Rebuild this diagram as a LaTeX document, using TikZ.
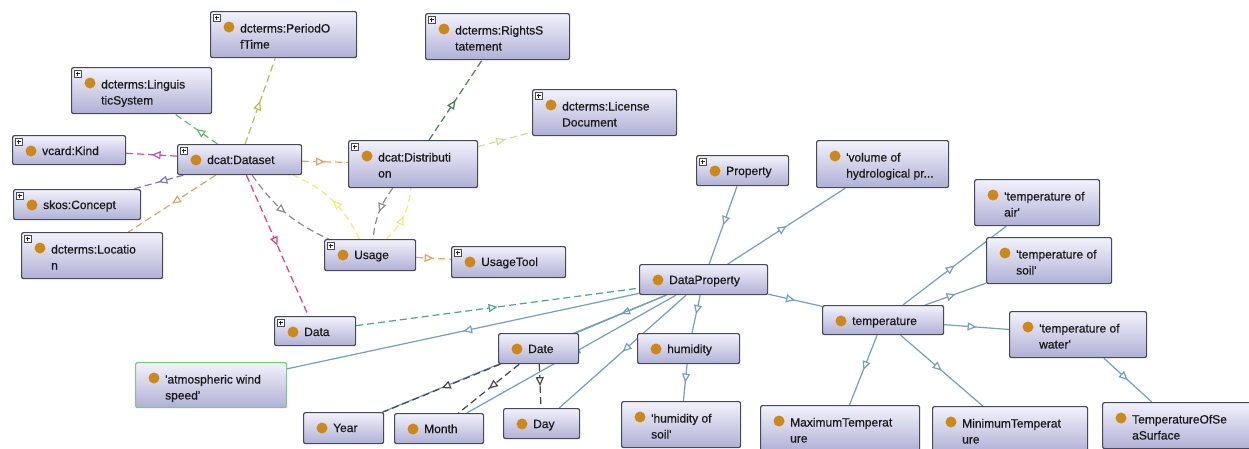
\documentclass[tikz,border=0pt]{standalone}
\usepackage{fontspec}
\setmainfont{Liberation Sans}[FakeBold=0.5]
\usetikzlibrary{arrows.meta,decorations.markings,calc}
\pgfdeclarelayer{bg}
\pgfdeclarelayer{edges}
\pgfsetlayers{bg,edges,main}
\definecolor{boxline}{RGB}{72,72,86}
\definecolor{boxtop}{RGB}{242,242,252}
\definecolor{boxbot}{RGB}{176,176,214}
\definecolor{dotc}{RGB}{204,136,24}
\definecolor{windc}{RGB}{120,205,120}
\definecolor{subc}{RGB}{118,158,190}
\definecolor{cgreen}{RGB}{100,190,100}
\definecolor{colive}{RGB}{180,190,90}
\definecolor{cmagenta}{RGB}{190,80,190}
\definecolor{cviolet}{RGB}{130,110,220}
\definecolor{ctan}{RGB}{210,170,100}
\definecolor{corange}{RGB}{238,160,100}
\definecolor{cgrey}{RGB}{140,140,140}
\definecolor{cpink}{RGB}{220,60,130}
\definecolor{cyellow}{RGB}{240,235,120}
\definecolor{cdkgreen}{RGB}{70,130,70}
\definecolor{cpale}{RGB}{215,220,150}
\definecolor{cteal}{RGB}{80,160,150}
\definecolor{cdark}{RGB}{70,70,80}
\tikzset{
  obox/.style={draw=boxline, line width=1.2pt, rounded corners=2pt,
    top color=boxtop, bottom color=boxbot, inner sep=0pt},
  otext/.style={font=\fontsize{12}{16}\selectfont, align=left, inner sep=0pt, text=black!90},
  midarr/.style={postaction={decorate,decoration={markings,
    mark=at position 0.5 with {\arrow{Triangle[length=9pt,width=8pt,fill=white]}}}}},
  rel/.style={draw=#1, line width=1.2pt, dash pattern=on 7pt off 4pt, midarr},
  sub/.style={draw=subc, line width=1.2pt, midarr},
}
\newcommand{\onto}[8][]{%
  \node[obox,#1,minimum width=#5pt,minimum height=#6pt,anchor=north west] (#2) at (#3,#4) {};
  \ifnum#6>40 \def\obl{37.5}\else\def\obl{20}\fi
  \fill[dotc] ($(#2.north west)+(19,16)$) circle (5.5pt);
  \node[otext,anchor=base west] (#2-t) at ($(#2.north west)+(30,\obl)$) {#7};
  \ifnum#8=1
    \filldraw[fill=white,draw=black!70,line width=0.5pt] ($(#2.north west)+(3,3)$) rectangle +(7,7);
    \draw[black!85,line width=0.8pt] ($(#2.north west)+(4.5,6.5)$) -- +(4,0) ($(#2.north west)+(6.5,4.5)$) -- +(0,4);
  \fi
}
\begin{document}
\begin{tikzpicture}[x=1pt,y=-1pt]
\useasboundingbox (0,0) rectangle (1249,448);
\begin{pgfonlayer}{bg}
\fill[white] (0,0) rectangle (1249,448);
\end{pgfonlayer}
\onto{period}{210}{11}{146}{46}{dcterms:PeriodO\\fTime}{1}
\onto{ling}{71}{67}{140}{46}{dcterms:Linguis\\ticSystem}{1}
\onto{kind}{12}{135}{113}{29}{vcard:Kind}{1}
\onto{dataset}{177}{144}{124}{30}{dcat:Dataset}{1}
\onto{skos}{13}{189}{127}{30}{skos:Concept}{1}
\onto{location}{21}{232}{141}{46}{dcterms:Locatio\\n}{1}
\onto{distribution}{348}{140}{129}{47}{dcat:Distributi\\on}{1}
\onto{rights}{425}{13}{144}{46}{dcterms:RightsS\\tatement}{1}
\onto{license}{532}{89}{144}{46}{dcterms:License\\Document}{1}
\onto{usage}{324}{239}{91}{31}{Usage}{1}
\onto{usagetool}{451}{246}{114}{31}{UsageTool}{1}
\onto{dataprop}{639}{264}{128}{30}{DataProperty}{0}
\onto{data}{274}{316}{81}{29}{Data}{1}
\onto[draw=windc]{wind}{135}{362}{151}{45}{\textquotesingle atmospheric wind\\speed\textquotesingle}{0}
\onto{date}{498}{333}{80}{30}{Date}{0}
\onto{humidity}{637}{333}{102}{30}{humidity}{0}
\onto{year}{303}{412}{80}{31}{Year}{0}
\onto{month}{394}{413}{89}{30}{Month}{0}
\onto{day}{503}{408}{76}{30}{Day}{0}
\onto{humsoil}{621}{401}{119}{46}{\textquotesingle humidity of\\soil\textquotesingle}{0}
\onto{property}{696}{155}{92}{30}{Property}{1}
\onto{volume}{816}{140}{132}{47}{\textquotesingle volume of\\hydrological pr...}{0}
\onto{tair}{974}{179}{125}{46}{\textquotesingle temperature of\\air\textquotesingle}{0}
\onto{tsoil}{986}{237}{125}{46}{\textquotesingle temperature of\\soil\textquotesingle}{0}
\onto{temp}{822}{305}{121}{29}{temperature}{0}
\onto{twater}{1009}{311}{137}{46}{\textquotesingle temperature of\\water\textquotesingle}{0}
\onto{maxt}{760}{405}{159}{46}{MaximumTemperat\\ure}{0}
\onto{mint}{932}{406}{155}{46}{MinimumTemperat\\ure}{0}
\onto{tsea}{1102}{402}{150}{46}{TemperatureOfSe\\aSurface}{0}
\begin{pgfonlayer}{edges}
\draw[rel=cgreen] (dataset) -- (ling);
\draw[rel=colive] (dataset) -- (period);
\draw[rel=cmagenta] (dataset) -- (kind);
\draw[rel=cviolet] (dataset) -- (skos);
\draw[rel=ctan] (dataset) -- (location);
\draw[rel=corange] (dataset) -- (distribution);
\draw[rel=cgrey] (dataset) to[bend right=15] (usage);
\draw[rel=cpink] (dataset) -- (data);
\draw[rel=cyellow] (usage) to[bend right=20] (dataset);
\draw[rel=cgrey] (distribution) to[bend right=15] (usage);
\draw[rel=cyellow] (usage) to[bend right=20] (distribution);
\draw[rel=cdkgreen] (distribution) -- (rights);
\draw[rel=cpale] (distribution) -- (license);
\draw[rel=corange] (usage) -- (usagetool);
\draw[rel=cteal] (data) -- (dataprop);
\draw[sub] (property) -- (dataprop);
\draw[sub] (dataprop) -- (volume);
\draw[sub] (dataprop) -- (temp);
\draw[sub] (dataprop) -- (humidity);
\draw[sub] (dataprop) -- (wind);
\draw[sub] (dataprop) -- (date);
\draw[sub] (dataprop) -- (year);
\draw[sub] (dataprop) -- (month);
\draw[sub] (dataprop) -- (day);
\draw[sub] (temp) -- (tair);
\draw[sub] (temp) -- (tsoil);
\draw[sub] (temp) -- (twater);
\draw[sub] (temp) -- (maxt);
\draw[sub] (temp) -- (mint);
\draw[sub] (twater) -- (tsea);
\draw[sub] (humidity) -- (humsoil);
\draw[rel=cdark] (date) -- (year);
\draw[rel=cdark] (date) -- (month);
\draw[rel=cdark] (date) -- (day);
\end{pgfonlayer}
\end{tikzpicture}
\end{document}
